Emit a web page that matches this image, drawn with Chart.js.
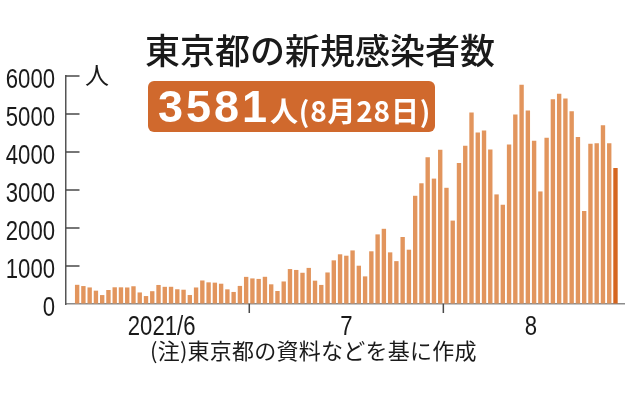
<!DOCTYPE html>
<html>
<head>
<meta charset="utf-8">
<script src="https://cdn.jsdelivr.net/npm/chart.js@4/dist/chart.umd.min.js"></script>
<style>
  html, body { margin: 0; padding: 0; background: #fff; }
  #wrap { position: relative; width: 638px; height: 396px; overflow: hidden; background: #fff; }
  #c { position: absolute; left: 0; top: 0; }
  .t { position: absolute; white-space: nowrap; line-height: 1; font-family: "Noto Sans CJK JP", "Noto Sans", sans-serif; color: #1a1a1a; }
  #title { left: 145px; top: 31px; font-size: 35px; font-weight: 500; }
  #badge { position: absolute; left: 148px; top: 81px; width: 287px; height: 51px; border-radius: 6px; background: #D0692D; }
  #big { position: absolute; left: 10px; top: 2.6px; font-family: "Liberation Sans", Arial, sans-serif; font-weight: 700; font-size: 45px; letter-spacing: 3px; color: #fff; line-height: 1; white-space: nowrap; }
  #date { position: absolute; left: 122px; top: 14.5px; font-family: "Noto Sans CJK JP", sans-serif; font-weight: 700; font-size: 28px; letter-spacing: 0.8px; color: #fff; line-height: 1; white-space: nowrap; }
  #unit { left: 85px; top: 62px; font-size: 24px; }
  #note { left: 150px; top: 338px; font-size: 22px; letter-spacing: 0.25px; }
</style>
</head>
<body>
<div id="wrap">
  <canvas id="c" width="638" height="396"></canvas>
  <div class="t" id="title">東京都の新規感染者数</div>
  <div id="badge"><span id="big">3581</span><span id="date">人(8月28日)</span></div>
  <div class="t" id="unit">人</div>
  <div class="t" id="note">(注)東京都の資料などを基に作成</div>
</div>
<script>
// ---- data ----
const categories = [
  '6/3','6/4','6/5','6/6','6/7','6/8','6/9','6/10','6/11','6/12','6/13','6/14','6/15','6/16','6/17','6/18','6/19','6/20','6/21','6/22','6/23','6/24','6/25','6/26','6/27','6/28','6/29','6/30',
  '7/1','7/2','7/3','7/4','7/5','7/6','7/7','7/8','7/9','7/10','7/11','7/12','7/13','7/14','7/15','7/16','7/17','7/18','7/19','7/20','7/21','7/22','7/23','7/24','7/25','7/26','7/27','7/28','7/29','7/30','7/31',
  '8/1','8/2','8/3','8/4','8/5','8/6','8/7','8/8','8/9','8/10','8/11','8/12','8/13','8/14','8/15','8/16','8/17','8/18','8/19','8/20','8/21','8/22','8/23','8/24','8/25','8/26','8/27','8/28'
];
const juneCases = [505,472,436,351,235,369,440,439,435,467,304,209,337,501,452,453,388,376,236,435,619,570,562,534,386,317,476,714];
const julyCases = [673,660,716,518,342,593,920,896,822,950,614,502,830,1149,1308,1271,1410,1008,727,1387,1832,1979,1359,1128,1763,1429,2848,3177,3865,3300,4058];
const augustCases = [3058,2195,3709,4166,5042,4515,4566,4066,2884,2612,4200,4989,5773,5094,4295,2962,4377,5386,5534,5405,5074,4392,2447,4220,4228,4704,4227,3581];
const monthLabels = ['2021/6', '7', '8'];
const yTickValues = [0, 1000, 2000, 3000, 4000, 5000, 6000];

// ---- derived ----
const cases = juneCases.concat(julyCases, augustCases);
const points = cases.map((v, i) => ({ x: i, y: v }));
const lastIdx = cases.length - 1;
const barColors = cases.map((v, i) => i === lastIdx ? '#D5651F' : '#E2955D');

const monthKeys = [];
const monthFirst = {}, monthLast = {};
categories.forEach((c, i) => {
  const m = c.split('/')[0];
  if (!(m in monthFirst)) { monthFirst[m] = i; monthKeys.push(m); }
  monthLast[m] = i;
});
const monthCenters = monthKeys.map(m => (monthFirst[m] + monthLast[m]) / 2);
const monthBoundaries = monthKeys.slice(1).map(m => monthFirst[m] - 0.5);

const LABEL_FONT = '28px "Liberation Sans", Arial, sans-serif';
const SX = 0.79;
function drawCondensed(ctx, text, x, y, align) {
  ctx.save();
  ctx.font = LABEL_FONT;
  ctx.fillStyle = '#1a1a1a';
  ctx.textBaseline = 'alphabetic';
  ctx.textAlign = 'left';
  const w = ctx.measureText(text).width * SX;
  const left = align === 'right' ? x - w : (align === 'center' ? x - w / 2 : x);
  ctx.translate(left, y);
  ctx.scale(SX, 1);
  ctx.fillText(text, 0, 0);
  ctx.restore();
}

const customTicks = {
  id: 'customTicks',
  afterDraw(chart) {
    const { ctx, chartArea, scales } = chart;
    const x = scales.x, y = scales.y;
    ctx.save();
    ctx.strokeStyle = '#4a4a4a';
    ctx.lineWidth = 1.5;
    ctx.beginPath();
    yTickValues.filter(v => v > 0).forEach(v => {
      const py = y.getPixelForValue(v);
      ctx.moveTo(chartArea.left, py);
      ctx.lineTo(chartArea.left + 13.5, py);
    });
    monthBoundaries.forEach(b => {
      const px = x.getPixelForValue(b);
      ctx.moveTo(px, chartArea.bottom);
      ctx.lineTo(px, chartArea.bottom + 9);
    });
    ctx.stroke();
    ctx.restore();
    yTickValues.forEach(v => {
      drawCondensed(ctx, String(v), chartArea.left - 11, y.getPixelForValue(v) + 11.6, 'right');
    });
    monthCenters.forEach((c, i) => {
      drawCondensed(ctx, monthLabels[i], x.getPixelForValue(c), chartArea.bottom + 30.7, 'center');
    });
  }
};

new Chart(document.getElementById('c'), {
  type: 'bar',
  data: {
    datasets: [{
      data: points,
      backgroundColor: barColors,
      borderWidth: 0,
      barPercentage: 0.7,
      categoryPercentage: 1.0
    }]
  },
  options: {
    responsive: false,
    animation: false,
    devicePixelRatio: 1,
    layout: { padding: { top: 76, right: 14, left: 0, bottom: 0 } },
    plugins: { legend: { display: false }, tooltip: { enabled: false }, title: { display: false } },
    scales: {
      x: {
        type: 'linear',
        offset: false,
        min: -1.78,
        max: cases.length + 0.36,
        afterBuildTicks: s => { s.ticks = monthCenters.map(v => ({ value: v })); },
        afterFit: s => { s.height = 92; },
        ticks: { display: false },
        grid: { display: true, drawOnChartArea: false, drawTicks: false },
        border: { display: true, color: '#8c8c8c', width: 1.5 }
      },
      y: {
        min: 0,
        max: 6000,
        afterBuildTicks: s => { s.ticks = yTickValues.map(v => ({ value: v })); },
        afterFit: s => { s.width = 66; },
        ticks: { display: false },
        grid: { display: true, drawOnChartArea: false, drawTicks: false },
        border: { display: true, color: '#555555', width: 1.5 }
      }
    }
  },
  plugins: [customTicks]
});
</script>
</body>
</html>
